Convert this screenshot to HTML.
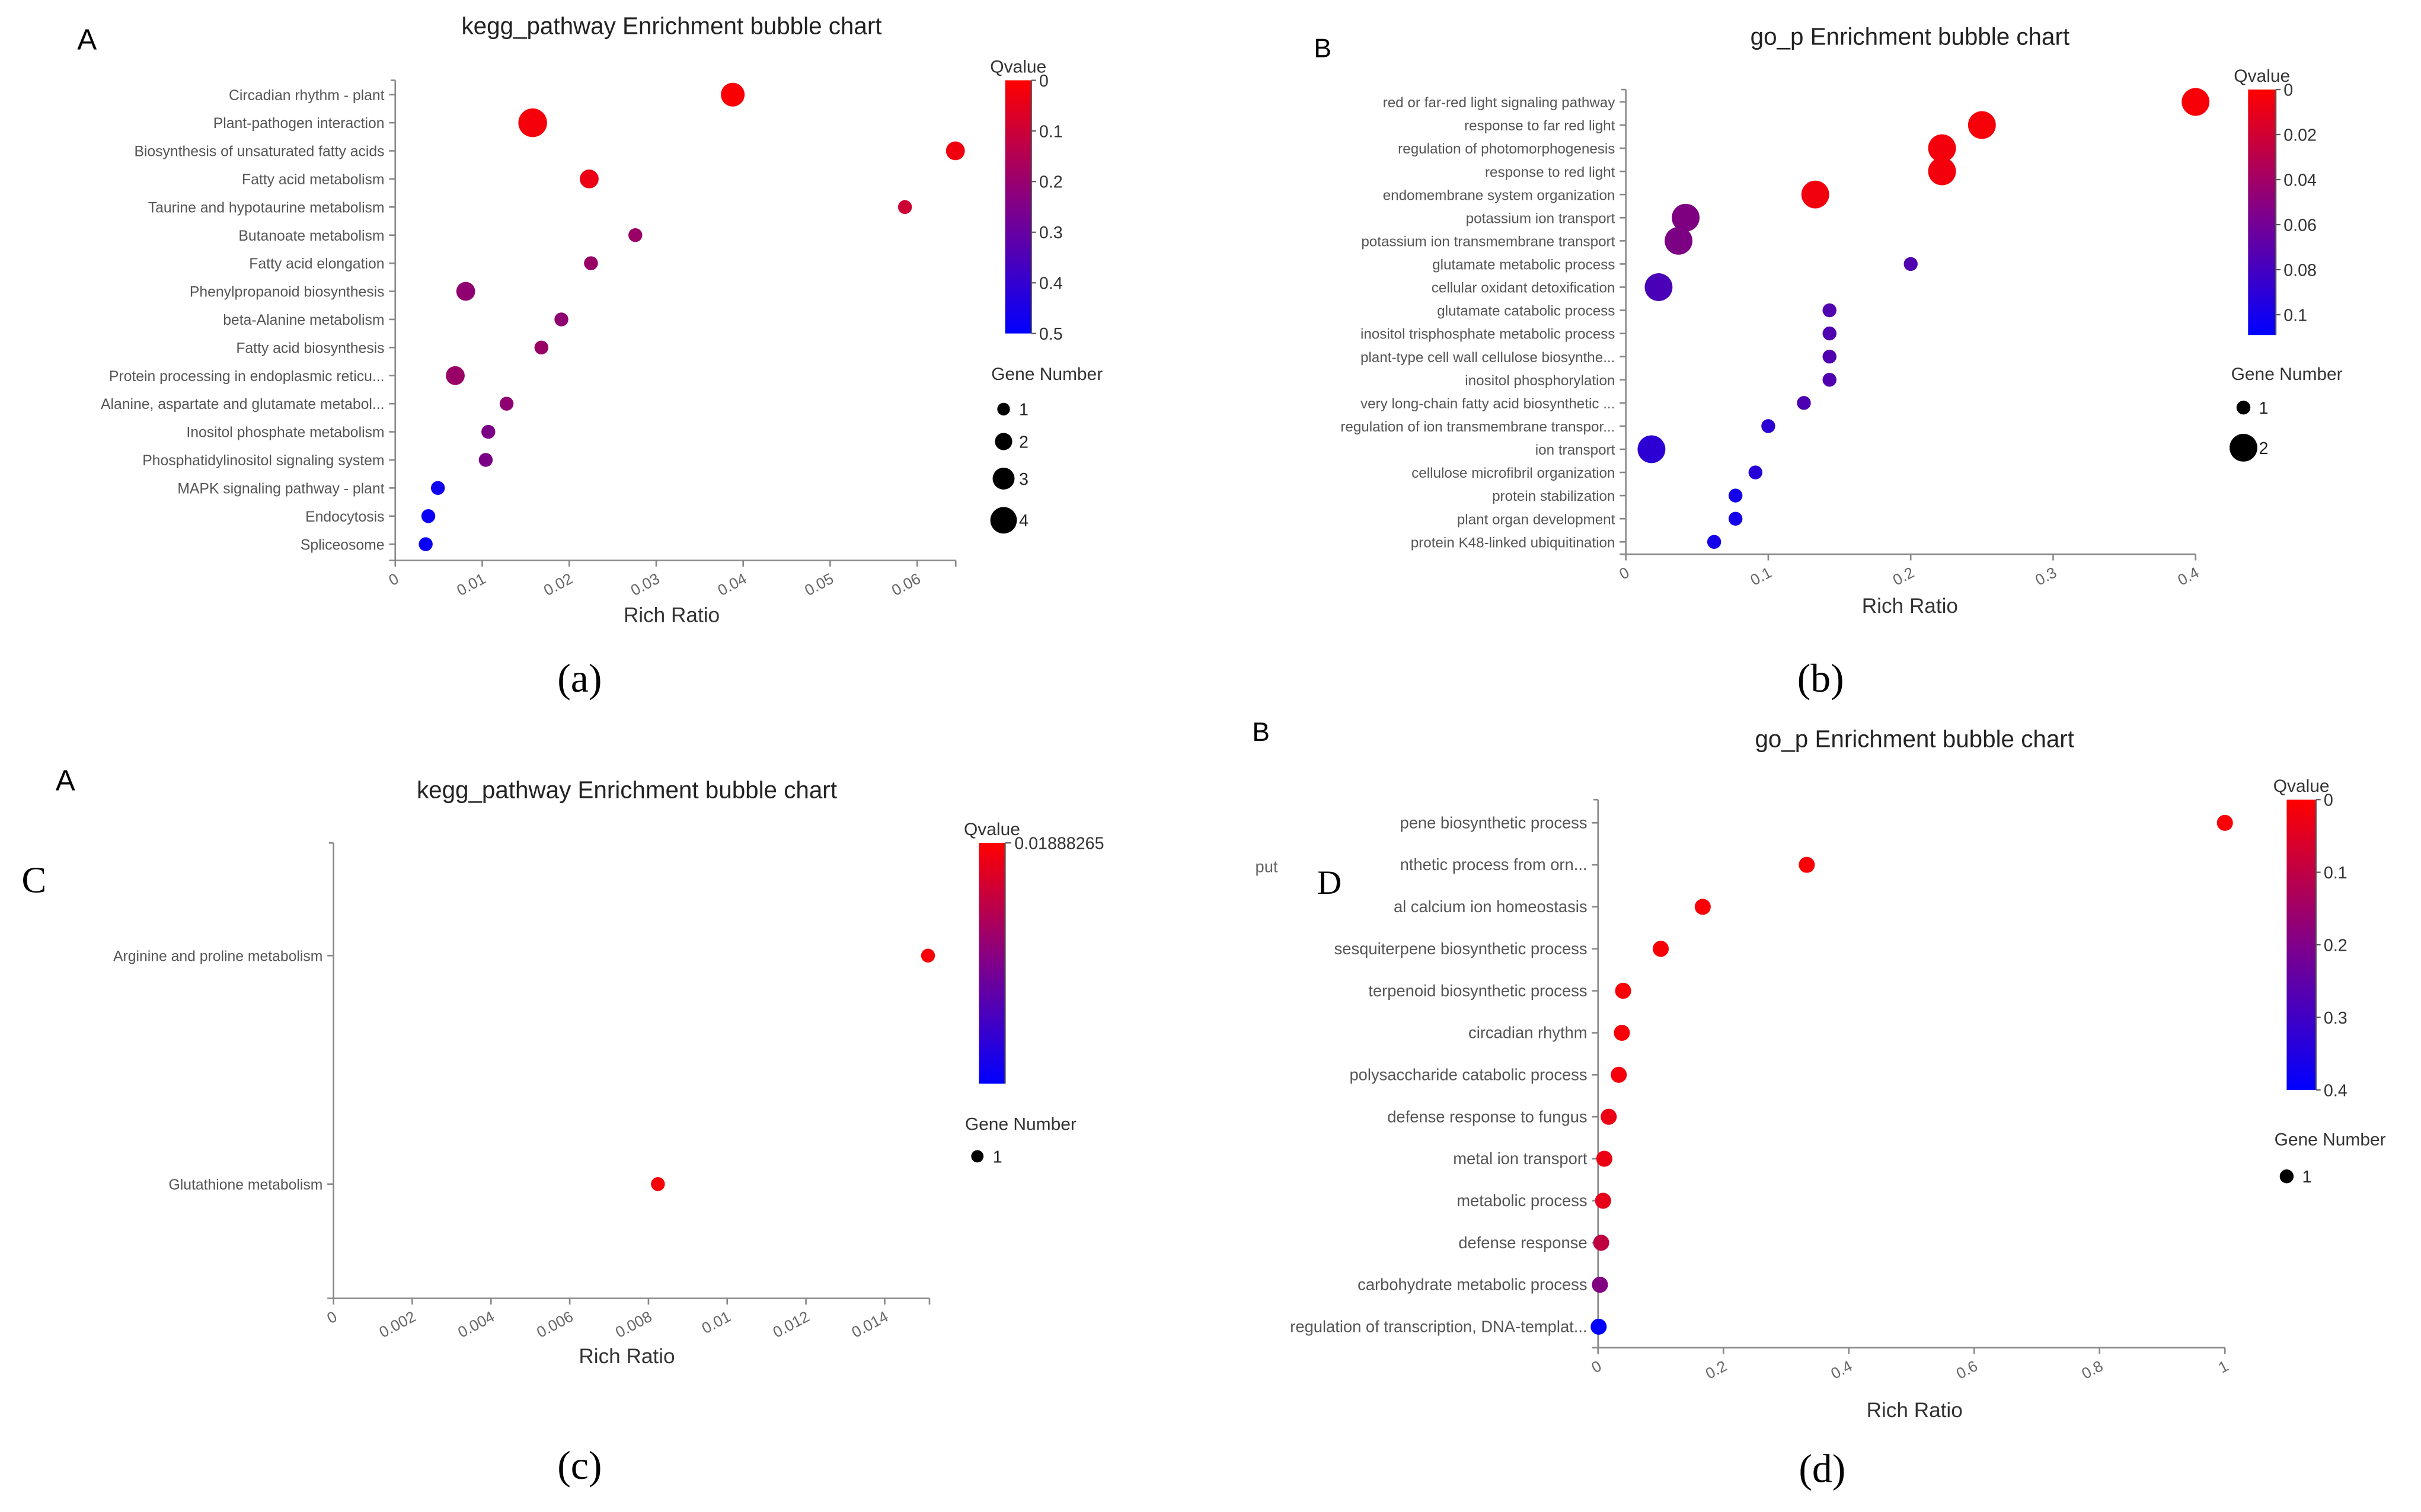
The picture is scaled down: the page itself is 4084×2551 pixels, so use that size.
<!DOCTYPE html>
<html><head><meta charset="utf-8"><style>
html,body{margin:0;padding:0;background:#fff;}
svg{display:block;}
text{font-family:"Liberation Sans",sans-serif;}
</style></head><body>
<svg id="fig" width="4084" height="2551" viewBox="0 0 1568 979.4" xmlns="http://www.w3.org/2000/svg">
<defs>
<linearGradient id="qgrad" x1="0" y1="0" x2="0" y2="1">
<stop offset="0" stop-color="#ff0000"/><stop offset="0.5" stop-color="#80008a"/><stop offset="1" stop-color="#0000ff"/>
</linearGradient>
</defs>
<rect width="1568" height="979.4" fill="#fff"/>
</svg>
<script>
// Panel (a)
const aCats = ["Circadian rhythm - plant","Plant-pathogen interaction","Biosynthesis of unsaturated fatty acids","Fatty acid metabolism","Taurine and hypotaurine metabolism","Butanoate metabolism","Fatty acid elongation","Phenylpropanoid biosynthesis","beta-Alanine metabolism","Fatty acid biosynthesis","Protein processing in endoplasmic reticu...","Alanine, aspartate and glutamate metabol...","Inositol phosphate metabolism","Phosphatidylinositol signaling system","MAPK signaling pathway - plant","Endocytosis","Spliceosome"];
const aRatio = [0.0388,0.0158,0.0644,0.0223,0.0586,0.0276,0.0225,0.0081,0.0191,0.0168,0.0069,0.0128,0.0107,0.0104,0.0049,0.0038,0.0035];
const aGenes = [3,4,2,2,1,1,1,2,1,1,2,1,1,1,1,1,1];
const aQ = [0.01,0.02,0.03,0.04,0.1,0.2,0.2,0.22,0.22,0.2,0.2,0.22,0.26,0.26,0.47,0.48,0.48];
const aTicks = [0,0.01,0.02,0.03,0.04,0.05,0.06];
const aQTicks = [0,0.1,0.2,0.3,0.4,0.5];
const aGeneLegend = [1,2,3,4];
// Panel (b)
const bCats = ["red or far-red light signaling pathway","response to far red light","regulation of photomorphogenesis","response to red light","endomembrane system organization","potassium ion transport","potassium ion transmembrane transport","glutamate metabolic process","cellular oxidant detoxification","glutamate catabolic process","inositol trisphosphate metabolic process","plant-type cell wall cellulose biosynthe...","inositol phosphorylation","very long-chain fatty acid biosynthetic ...","regulation of ion transmembrane transpor...","ion transport","cellulose microfibril organization","protein stabilization","plant organ development","protein K48-linked ubiquitination"];
const bRatio = [0.4,0.25,0.222,0.222,0.133,0.042,0.037,0.2,0.023,0.143,0.143,0.143,0.143,0.125,0.1,0.018,0.091,0.077,0.077,0.062];
const bGenes = [2,2,2,2,2,2,2,1,2,1,1,1,1,1,1,2,1,1,1,1];
const bQ = [0.003,0.004,0.005,0.005,0.006,0.055,0.056,0.075,0.078,0.075,0.075,0.075,0.075,0.076,0.09,0.09,0.092,0.1,0.1,0.1];
const bTicks = [0,0.1,0.2,0.3,0.4];
const bQTicks = [0,0.02,0.04,0.06,0.08,0.1];
const bGeneLegend = [1,2];
// Panel (c)
const cCats = ["Arginine and proline metabolism","Glutathione metabolism"];
const cRatio = [0.0151,0.00824];
const cGenes = [1,1];
const cQ = [0.0005,0.0005];
const cTicks = [0,0.002,0.004,0.006,0.008,0.01,0.012,0.014];
const cGeneLegend = [1];
// Panel (d)
const dCats = ["pene biosynthetic process","nthetic process from orn...","al calcium ion homeostasis","sesquiterpene biosynthetic process","terpenoid biosynthetic process","circadian rhythm","polysaccharide catabolic process","defense response to fungus","metal ion transport","metabolic process","defense response","carbohydrate metabolic process","regulation of transcription, DNA-templat..."];
const dRatio = [1.0,0.333,0.167,0.1,0.04,0.038,0.033,0.017,0.01,0.008,0.005,0.003,0.001];
const dGenes = [1,1,1,1,1,1,1,1,1,1,1,1,1];
const dQ = [0.01,0.01,0.01,0.01,0.01,0.01,0.015,0.03,0.03,0.04,0.1,0.2,0.4];
const dTicks = [0,0.2,0.4,0.6,0.8,1];
const dQTicks = [0,0.1,0.2,0.3,0.4];
const dGeneLegend = [1];

const NS = "http://www.w3.org/2000/svg";
const svg = document.getElementById('fig');
function mk(tag, attrs, parent, txt){
  const e = document.createElementNS(NS, tag);
  for (const k in attrs) e.setAttribute(k, attrs[k]);
  if (txt !== undefined) e.textContent = txt;
  (parent||svg).appendChild(e);
  return e;
}
function qColor(q, qmax){
  let t = Math.max(0, Math.min(1, q/qmax));
  return 'rgb(' + Math.round(255*(1-t)) + ',0,' + Math.round(255*t) + ')';
}

function drawPanel(P){
  const g = mk('g', {});
  
  
  const xScale = v => P.x0 + (v - P.tickMin) / (P.tickMax - P.tickMin) * (P.x1 - P.x0);
  const yScale = i => P.rowTop + i * P.rowStep;
  const ya = mk('line', {x1:P.x0, y1:P.axTop, x2:P.x0, y2:P.axBot, stroke:'#888', 'stroke-width':1}, g);
  
  
  mk('line', {x1:P.x0-3, y1:P.axTop, x2:P.x0, y2:P.axTop, stroke:'#888', 'stroke-width':1}, g);
  const xa = mk('line', {x1:P.x0-4, y1:P.axBot, x2:P.xEnd, y2:P.axBot, stroke:'#888', 'stroke-width':1}, g);
  
  
  mk('line', {x1:P.xEnd, y1:P.axBot, x2:P.xEnd, y2:P.axBot+4, stroke:'#888', 'stroke-width':1}, g);
  P.ticks.forEach(t => {
    const x = xScale(t);
    mk('line', {x1:x, y1:P.axBot, x2:x, y2:P.axBot+4, stroke:'#888', 'stroke-width':1}, g);
    const lbl = mk('text', {x:x+3, y:P.axBot+14, 'font-size':10, fill:'#666', 'text-anchor':'end', transform:'rotate(-28 '+(x+3)+' '+(P.axBot+14)+')'}, g, String(t));
    
    
  });
  P.cats.forEach((c, i) => {
    const y = yScale(i);
    mk('line', {x1:P.x0-4, y1:y, x2:P.x0, y2:y, stroke:'#888', 'stroke-width':1}, g);
    const lbl = mk('text', {x:P.x0-7, y:y+3.5, 'font-size':P.catFont, fill:'#555', 'text-anchor':'end'}, g, c);
    
    
  });
  P.cats.forEach((c, i) => {
    const b = mk('circle', {cx:xScale(P.ratio[i]), cy:yScale(i), r:P.rFn(P.genes[i]), fill:qColor(P.q[i], P.qmax)}, g);
    
    
  });
  const tt = mk('text', {x:P.titleX, y:P.titleY, 'font-size':15.5, fill:'#222', 'text-anchor':'middle'}, g, P.title);
  
  
  const xt = mk('text', {x:P.titleX, y:P.xTitleY, 'font-size':13.5, fill:'#333', 'text-anchor':'middle'}, g, 'Rich Ratio');
  
  
  const qt = mk('text', {x:P.cbX+P.cbW/2, y:P.cbTop-5, 'font-size':11.5, fill:'#333', 'text-anchor':'middle'}, g, 'Qvalue');
  
  
  const cb = mk('rect', {x:P.cbX, y:P.cbTop, width:P.cbW, height:P.cbBot-P.cbTop, fill:'url(#qgrad)'}, g);
  
  
  mk('line', {x1:P.cbX+P.cbW, y1:P.cbTop, x2:P.cbX+P.cbW, y2:P.cbBot, stroke:'#555', 'stroke-width':0.8}, g);
  P.qTicks.forEach(q => {
    const y = P.cbTop + (q/P.qmax)*(P.cbBot-P.cbTop);
    mk('line', {x1:P.cbX+P.cbW, y1:y, x2:P.cbX+P.cbW+3, y2:y, stroke:'#555', 'stroke-width':0.8}, g);
    const l = mk('text', {x:P.cbX+P.cbW+5, y:y+4, 'font-size':11, fill:'#333'}, g, String(q));
    
    
  });
  const gt = mk('text', {x:P.gnX, y:P.gnY, 'font-size':11.5, fill:'#333'}, g, 'Gene Number');
  
  
  P.geneLegend.forEach((n, k) => {
    const y = P.glY[k];
    const d = mk('circle', {cx:P.glDotX, cy:y, r:P.rLeg(n), fill:'#000'}, g);
    
    
    const l = mk('text', {x:P.glDotX+10, y:y+4, 'font-size':11, fill:'#222'}, g, String(n));
    
    
  });
  P.letters.forEach(L => {
    const t = mk('text', {x:L[1], y:L[2], 'font-size':L[3], fill:'#000', style:'font-family:' + L[4]}, g, L[0]);
    
    
  });
}

const SERIF = '"Liberation Serif", serif';
const SANS = '"Liberation Sans", sans-serif';

drawPanel({name:'panel-a', cats:aCats, ratio:aRatio, genes:aGenes, q:aQ, qmax:0.5, ticks:aTicks, tickMin:0, tickMax:0.06,
  x0:256, x1:594, xEnd:619, axTop:52, axBot:363, rowTop:61.3, rowStep:18.2, catFont:9.5,
  rFn:g=>2.9+1.6*g, rLeg:g=>2.6+1.5*g, title:'kegg_pathway Enrichment bubble chart', titleX:435, titleY:22, xTitleY:403,
  cbX:651, cbW:17, cbTop:52, cbBot:216, qTicks:aQTicks, gnX:642, gnY:246, geneLegend:aGeneLegend, glY:[265,286,310,337], glDotX:650,
  letters:[['A',50,32,19,SANS],['(a)',361,448,26,SERIF]]});

drawPanel({name:'panel-b', cats:bCats, ratio:bRatio, genes:bGenes, q:bQ, qmax:0.109, ticks:bTicks, tickMin:0, tickMax:0.4,
  x0:1053, x1:1422, xEnd:1422, axTop:58, axBot:359, rowTop:66, rowStep:15.0, catFont:9.3,
  rFn:g=>4.5*g, rLeg:g=>4.5*g, title:'go_p Enrichment bubble chart', titleX:1237, titleY:29, xTitleY:397,
  cbX:1456, cbW:18, cbTop:58, cbBot:217, qTicks:bQTicks, gnX:1445, gnY:246, geneLegend:bGeneLegend, glY:[264,290], glDotX:1453,
  letters:[['B',851,37,17,SANS],['(b)',1164,448,26,SERIF]]});

drawPanel({name:'panel-c', cats:cCats, ratio:cRatio, genes:cGenes, q:cQ, qmax:0.0189, ticks:cTicks, tickMin:0, tickMax:0.014,
  x0:216, x1:573, xEnd:602, axTop:546, axBot:841, rowTop:619, rowStep:148, catFont:9.5,
  rFn:g=>4.5, rLeg:g=>4, title:'kegg_pathway Enrichment bubble chart', titleX:406, titleY:517, xTitleY:883,
  cbX:634, cbW:17, cbTop:546, cbBot:702, qTicks:[], gnX:625, gnY:732, geneLegend:cGeneLegend, glY:[749], glDotX:633,
  letters:[['A',36,512,19,SANS],['C',14,578,24,SERIF],['(c)',361,958,26,SERIF]]});
(function(){
  const t = mk('text', {x:657, y:550, 'font-size':11, fill:'#333'}, svg, '0.01888265');
  
  
  mk('line', {x1:651, y1:546, x2:655, y2:546, stroke:'#555', 'stroke-width':0.8});
})();

drawPanel({name:'panel-d', cats:dCats, ratio:dRatio, genes:dGenes, q:dQ, qmax:0.4, ticks:dTicks, tickMin:0, tickMax:1,
  x0:1035, x1:1441, xEnd:1441, axTop:518, axBot:873, rowTop:533, rowStep:27.2, catFont:10.5,
  rFn:g=>5.2, rLeg:g=>4.5, title:'go_p Enrichment bubble chart', titleX:1240, titleY:484, xTitleY:918,
  cbX:1481, cbW:19, cbTop:518, cbBot:706, qTicks:dQTicks, gnX:1473, gnY:742, geneLegend:dGeneLegend, glY:[762], glDotX:1481,
  letters:[['B',811,480,17,SANS],['D',853,579,22,SERIF],['(d)',1165,960,26,SERIF]]});
(function(){
  const t = mk('text', {x:813, y:565, 'font-size':10.5, fill:'#666'}, svg, 'put');
  
  
})();
</script>
</body></html>
